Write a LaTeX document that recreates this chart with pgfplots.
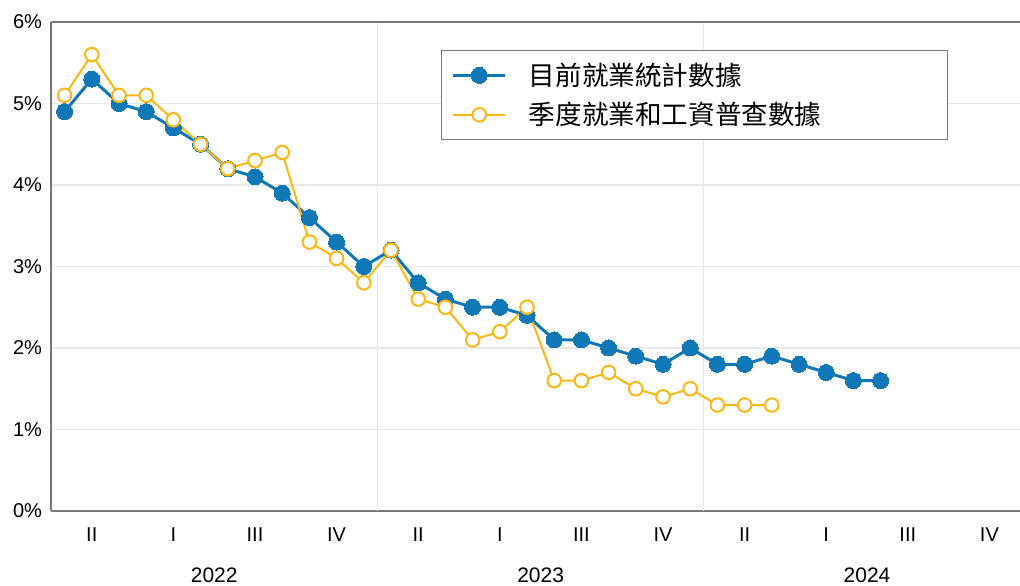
\documentclass[border=0pt]{standalone}
\usepackage{pgfplots}
\pgfplotsset{compat=1.18}
\usepackage{fontspec}
\setmainfont{Liberation Sans}
\newfontfamily\cjk{Noto Sans CJK TC}
\definecolor{cblue}{RGB}{16,120,182}
\definecolor{cyel}{RGB}{251,183,21}
\definecolor{gridc}{RGB}{232,232,232}
\definecolor{axc}{RGB}{120,120,120}
\pgfplotstableread{
x cur
0.5 4.9
1.5 5.3
2.5 5.0
3.5 4.9
4.5 4.7
5.5 4.5
6.5 4.2
7.5 4.1
8.5 3.9
9.5 3.6
10.5 3.3
11.5 3.0
12.5 3.2
13.5 2.8
14.5 2.6
15.5 2.5
16.5 2.5
17.5 2.4
18.5 2.1
19.5 2.1
20.5 2.0
21.5 1.9
22.5 1.8
23.5 2.0
24.5 1.8
25.5 1.8
26.5 1.9
27.5 1.8
28.5 1.7
29.5 1.6
30.5 1.6
}\curtab
\pgfplotstableread{
x qcew
0.5 5.1
1.5 5.6
2.5 5.1
3.5 5.1
4.5 4.8
5.5 4.5
6.5 4.2
7.5 4.3
8.5 4.4
9.5 3.3
10.5 3.1
11.5 2.8
12.5 3.2
13.5 2.6
14.5 2.5
15.5 2.1
16.5 2.2
17.5 2.5
18.5 1.6
19.5 1.6
20.5 1.7
21.5 1.5
22.5 1.4
23.5 1.5
24.5 1.3
25.5 1.3
26.5 1.3
}\qtab
\begin{document}
\begin{tikzpicture}
\begin{axis}[
  scale only axis,
  width=484.5pt, height=244.5pt,
  xmin=0, xmax=35.625,
  ymin=0, ymax=6,
  clip=false,
  axis lines=left,
  axis line style={axc, line width=0.7pt, -},
  ytick={0,1,2,3,4,5,6},
  yticklabels={0\%,1\%,2\%,3\%,4\%,5\%,6\%},
  ymajorgrids,
  grid style={gridc, line width=0.6pt},
  xtick={1.5,4.5,7.5,10.5,13.5,16.5,19.5,22.5,25.5,28.5,31.5,34.5},
  xticklabels={II,I,III,IV,II,I,III,IV,II,I,III,IV},
  extra x ticks={12,24},
  extra x tick labels={},
  extra x tick style={grid=major, major tick length=0pt},
  major tick length=0pt,
  tick label style={font=\fontsize{10}{12}\selectfont},
  xticklabel style={yshift=-5pt},
  yticklabel style={xshift=-1pt},
  /pgf/number format/assume math mode=true,
  legend style={at={(0.4025,0.9427)}, anchor=north west, draw=axc, line width=0.6pt,
    font=\cjk\fontsize{13.3}{15}\selectfont, inner xsep=5pt, inner ysep=4pt, row sep=3pt,
    cells={anchor=west}},
  legend cell align=left,
  legend image code/.code={\draw[mark repeat=2,mark phase=2,#1] plot coordinates {(0cm,0cm) (0.46cm,0cm) (0.92cm,0cm)};},
]
\addplot[cblue, line width=1.5pt, mark=*, mark size=4pt, mark options={fill=cblue, draw=cblue, line width=0pt}] table[x=x,y=cur] {\curtab};
\addlegendentry{\kern9pt 目前就業統計數據}
\addplot[cyel, line width=1pt, mark=*, mark size=3.4pt, mark options={fill=white, draw=cyel, line width=1pt}] table[x=x,y=qcew] {\qtab};
\addlegendentry{\kern9pt 季度就業和工資普查數據\kern56pt}
\draw[axc, line width=0.7pt] (rel axis cs:0,1) -- (rel axis cs:1,1);
\node[font=\fontsize{10.5}{12}\selectfont] at (axis cs:6,0) [yshift=-32pt] {2022};
\node[font=\fontsize{10.5}{12}\selectfont] at (axis cs:18,0) [yshift=-32pt] {2023};
\node[font=\fontsize{10.5}{12}\selectfont] at (axis cs:30,0) [yshift=-32pt] {2024};
\coordinate (SW) at (rel axis cs:0,0);
\coordinate (NE) at (rel axis cs:1,1);
\end{axis}
\pgfresetboundingbox
\path[use as bounding box] ([xshift=-25.5pt,yshift=-37.5pt]SW) rectangle ([yshift=11pt]NE);
\end{tikzpicture}
\end{document}
